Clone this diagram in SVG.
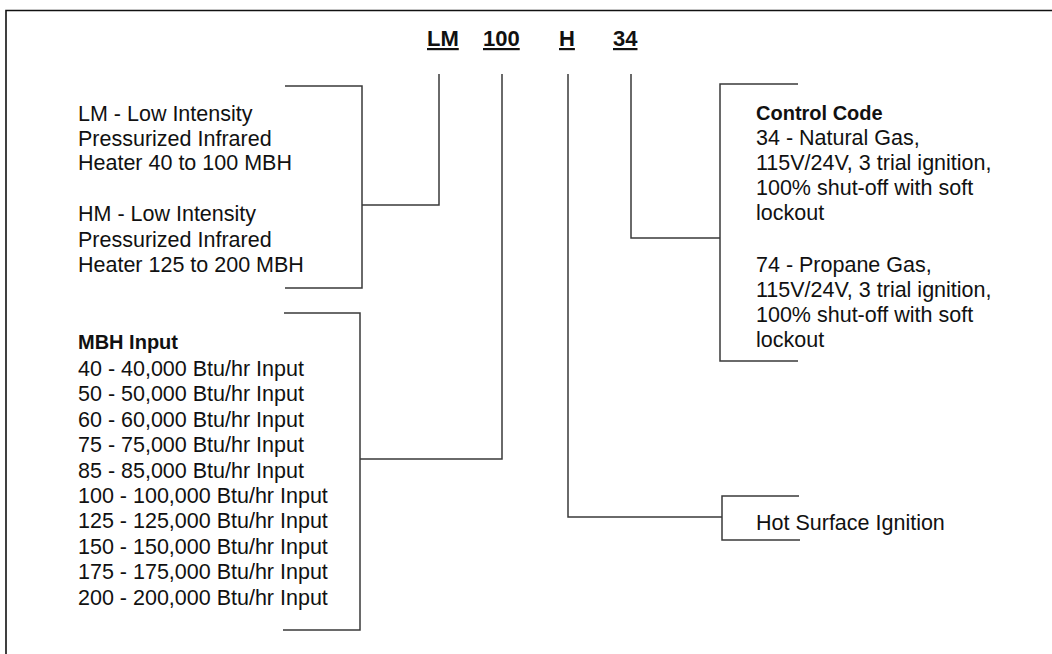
<svg xmlns="http://www.w3.org/2000/svg" width="1052" height="654" viewBox="0 0 1052 654">
  <style>
    .t { font-family: "Liberation Sans", Arial, sans-serif; font-size: 21.5px; fill: #111; }
    .b { font-family: "Liberation Sans", Arial, sans-serif; font-size: 20px; font-weight: bold; fill: #111; }
    .h { font-family: "Liberation Sans", Arial, sans-serif; font-size: 22px; font-weight: bold; fill: #111; text-decoration: underline; }
    .ln { fill: none; stroke: #3a3a3a; stroke-width: 1.5; }
    .frame { fill: none; stroke: #111; stroke-width: 1.6; }
  </style>
  <rect width="1052" height="654" fill="#fff"/>
  <path class="frame" d="M6 654 V10.5 H1052"/>

  <g id="header">
    <text class="h" x="427" y="46">LM</text>
    <text class="h" x="483" y="46">100</text>
    <text class="h" x="559" y="46">H</text>
    <text class="h" x="613" y="46">34</text>
  </g>

  <g id="connectors">
    <path class="ln" d="M439 74 V205 H362"/>
    <path class="ln" d="M285 86 H362 V288 H285"/>
    <path class="ln" d="M502 74 V459 H360"/>
    <path class="ln" d="M284 313 H360 V630 H283"/>
    <path class="ln" d="M631 74 V238 H720"/>
    <path class="ln" d="M798 84 H720 V361 H798"/>
    <path class="ln" d="M568 74 V517 H722"/>
    <path class="ln" d="M799 496 H722 V540 H800"/>
  </g>

  <g id="node-model">
    <text class="t" x="78" y="121">LM - Low Intensity</text>
    <text class="t" x="78" y="145.5">Pressurized Infrared</text>
    <text class="t" x="78" y="170">Heater 40 to 100 MBH</text>
    <text class="t" x="78" y="221">HM - Low Intensity</text>
    <text class="t" x="78" y="246.5">Pressurized Infrared</text>
    <text class="t" x="78" y="272">Heater 125 to 200 MBH</text>
  </g>

  <g id="node-mbh">
    <text class="b" x="78" y="349">MBH Input</text>
    <text class="t" x="78" y="376">40 - 40,000 Btu/hr Input</text>
    <text class="t" x="78" y="401.4">50 - 50,000 Btu/hr Input</text>
    <text class="t" x="78" y="426.8">60 - 60,000 Btu/hr Input</text>
    <text class="t" x="78" y="452.2">75 - 75,000 Btu/hr Input</text>
    <text class="t" x="78" y="477.6">85 - 85,000 Btu/hr Input</text>
    <text class="t" x="78" y="503">100 - 100,000 Btu/hr Input</text>
    <text class="t" x="78" y="528.4">125 - 125,000 Btu/hr Input</text>
    <text class="t" x="78" y="553.8">150 - 150,000 Btu/hr Input</text>
    <text class="t" x="78" y="579.2">175 - 175,000 Btu/hr Input</text>
    <text class="t" x="78" y="604.6">200 - 200,000 Btu/hr Input</text>
  </g>

  <g id="node-control">
    <text class="b" x="756" y="119.5">Control Code</text>
    <text class="t" x="756" y="145">34 - Natural Gas,</text>
    <text class="t" x="756" y="170">115V/24V, 3 trial ignition,</text>
    <text class="t" x="756" y="195">100% shut-off with soft</text>
    <text class="t" x="756" y="220">lockout</text>
    <text class="t" x="756" y="272.3">74 - Propane Gas,</text>
    <text class="t" x="756" y="297.3">115V/24V, 3 trial ignition,</text>
    <text class="t" x="756" y="322.3">100% shut-off with soft</text>
    <text class="t" x="756" y="347.3">lockout</text>
  </g>

  <g id="node-ignition">
    <text class="t" x="756" y="529.5">Hot Surface Ignition</text>
  </g>
</svg>
